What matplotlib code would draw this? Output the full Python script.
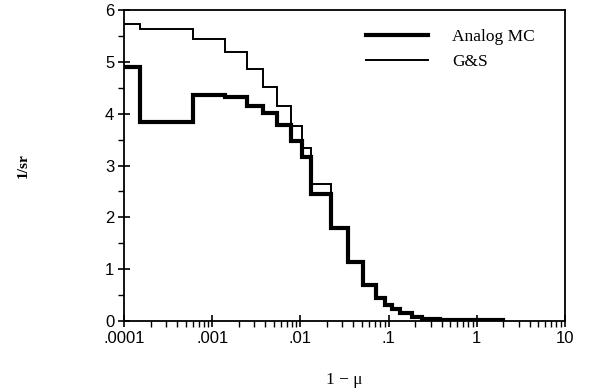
import numpy as np
import matplotlib.pyplot as plt
from matplotlib.ticker import FixedLocator, LogLocator, NullFormatter, MultipleLocator

# bin edges in 1 - mu
edges = [0.0001, 0.00015, 0.0006, 0.0014, 0.0025, 0.0038, 0.0055, 0.0078,
         0.0104, 0.0132, 0.0222, 0.0347, 0.0513, 0.072, 0.091, 0.109,
         0.135, 0.184, 0.239, 0.383, 2.0]

# phase function per bin (1/sr)
analog_mc = [4.90, 3.84, 4.36, 4.32, 4.15, 4.01, 3.78, 3.47, 3.16, 2.45,
             1.79, 1.14, 0.69, 0.44, 0.31, 0.23, 0.15, 0.08, 0.04, 0.01]
gs = [5.73, 5.63, 5.44, 5.19, 4.86, 4.51, 4.15, 3.76, 3.34, 2.64,
      1.79, 1.14, 0.69, 0.44, 0.31, 0.23, 0.15, 0.08, 0.04, 0.01]

xticks = [0.0001, 0.001, 0.01, 0.1, 1, 10]
xticklabels = ['.0001', '.001', '.01', '.1', '1', '10']

fig = plt.figure(figsize=(5.91, 3.91), dpi=100)
ax = fig.add_axes([0.2098, 0.179, 0.7462, 0.7954])

ax.step(edges, analog_mc + analog_mc[-1:], where='post', color='black',
        lw=3.0, solid_joinstyle='miter', label='Analog MC')
ax.step(edges, gs + gs[-1:], where='post', color='black',
        lw=1.4, solid_joinstyle='miter', label='G&S')

ax.set_xscale('log')
ax.set_xlim(0.0001, 10)
ax.set_ylim(0, 6)

ax.xaxis.set_major_locator(FixedLocator(xticks))
ax.set_xticklabels(xticklabels)
ax.xaxis.set_minor_locator(LogLocator(base=10, subs=np.arange(2, 10)))
ax.xaxis.set_minor_formatter(NullFormatter())
ax.yaxis.set_major_locator(MultipleLocator(1))
ax.yaxis.set_minor_locator(MultipleLocator(0.5))

ax.tick_params(which='major', direction='inout', length=8, width=1.2,
               labelsize=12, pad=3, colors='black')
ax.tick_params(which='minor', direction='out', length=4, width=1.0)
for lbl in ax.get_xticklabels() + ax.get_yticklabels():
    lbl.set_fontfamily('Liberation Sans')

for sp in ax.spines.values():
    sp.set_linewidth(1.3)

ax.set_xlabel('1 \u2212 \u03bc', family='Liberation Serif', fontsize=12.5, labelpad=19)
ax.set_ylabel('1/sr', family='Liberation Serif', fontsize=11, fontweight='bold',
              labelpad=54)

leg = ax.legend(loc='upper left', bbox_to_anchor=(0.548, 0.94), frameon=False,
                prop={'family': 'Liberation Serif', 'size': 12.5},
                handlelength=3.6, handletextpad=1.4, labelspacing=0.5,
                borderpad=0, borderaxespad=0)

fig.savefig('out.png', dpi=100)
